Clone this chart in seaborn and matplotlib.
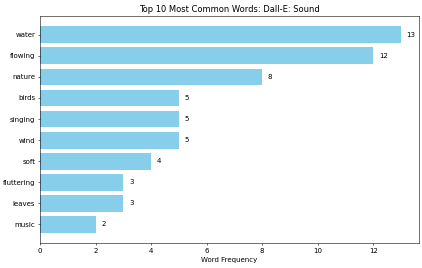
import pandas as pd
import seaborn as sns
import matplotlib.pyplot as plt

# Word counts
words = ['water', 'flowing', 'nature', 'birds', 'singing',
         'wind', 'soft', 'fluttering', 'leaves', 'music']
counts = [13, 12, 8, 5, 5, 5, 4, 3, 3, 2]

df = pd.DataFrame({'word': words, 'count': counts})

fig, ax = plt.subplots(figsize=(8.44, 5.36), dpi=50)
sns.barplot(data=df, x='count', y='word', color='skyblue', saturation=1,
            width=0.8, orient='h', ax=ax)

# Value labels next to each bar
for i, v in enumerate(df['count']):
    ax.text(v + 0.2, i, str(v), va='center', fontsize=10)

# matplotlib-style margins around the bars
ax.set_xlim(0, 13.65)
ax.set_ylim(9.89, -0.89)
ax.set_xlabel('Word Frequency')
ax.set_ylabel('')
ax.set_title('Top 10 Most Common Words: Dall-E: Sound')

fig.subplots_adjust(left=0.095, right=0.993, top=0.94, bottom=0.093)
fig.savefig('out.png', dpi=50)
